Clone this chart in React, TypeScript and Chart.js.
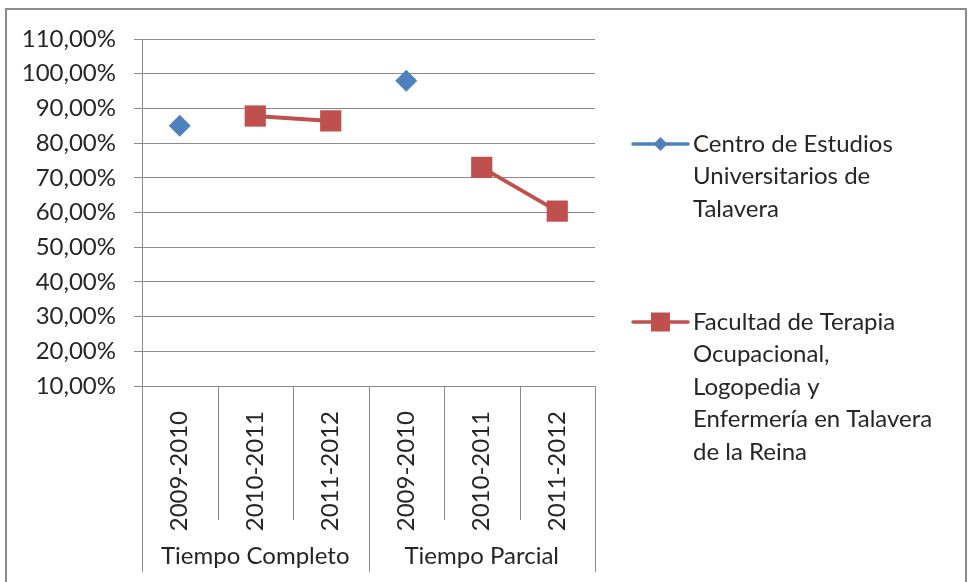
import React, { useEffect, useRef } from "react";
import { Chart, registerables } from "chart.js";

Chart.register(...registerables);

const yearLabels = ["2009-2010", "2010-2011", "2011-2012", "2009-2010", "2010-2011", "2011-2012"];
const groupLabels = ["Tiempo Completo", "Tiempo Parcial"];
const groupSizes = [3, 3];
const centroName = ["Centro de Estudios", "Universitarios de", "Talavera"];
const facultadName = ["Facultad de Terapia", "Ocupacional,", "Logopedia y", "Enfermería en Talavera", "de la Reina"];
const centroValues: (number | null)[] = [85, null, null, 98, null, null];
const facultadValues: (number | null)[] = [null, 87.8, 86.4, null, 73, 60.4];
const yMin = 10;
const yMax = 110;
const yStep = 10;

const BLUE = "#4F81BD";
const RED = "#C0504D";
const GRID = "#8a8a8a";
const TEXT = "#262626";
const FONT = "Lato";
const FS = 24;

export default function App() {
  const ref = useRef<HTMLCanvasElement | null>(null);

  useEffect(() => {
    document.body.style.margin = "0";
    const canvas = ref.current!;
    const extras = {
      id: "extras",
      afterDraw(chart: any) {
        const ctx = chart.ctx;
        const xs = chart.scales.x;
        const area = chart.chartArea;
        const n = yearLabels.length;
        const w = (area.right - area.left) / n;
        ctx.save();
        // outer border
        ctx.strokeStyle = "#8c8c8c";
        ctx.lineWidth = 2;
        ctx.strokeRect(6, 9, 960, 700);
        // category separators
        ctx.strokeStyle = GRID;
        ctx.lineWidth = 1;
        const groupBounds = new Set<number>([0]);
        let acc = 0;
        groupSizes.forEach((s) => { acc += s; groupBounds.add(acc); });
        for (let i = 0; i <= n; i++) {
          const x = Math.round(xs.getPixelForValue(0) - w / 2 + i * w) + 0.5;
          const bottom = groupBounds.has(i) ? 572 : 520;
          ctx.beginPath();
          ctx.moveTo(x, area.bottom);
          ctx.lineTo(x, bottom);
          ctx.stroke();
        }
        // group labels
        ctx.fillStyle = TEXT;
        ctx.font = `${FS}px ${FONT}`;
        ctx.textAlign = "center";
        ctx.textBaseline = "middle";
        let start = 0;
        groupLabels.forEach((g, gi) => {
          const x0 = xs.getPixelForValue(start) - w / 2;
          const x1 = xs.getPixelForValue(start + groupSizes[gi] - 1) + w / 2;
          ctx.fillText(g, (x0 + x1) / 2, 556);
          start += groupSizes[gi];
        });
        // legend
        const lx0 = 633, lx1 = 688, tx = 693, lh = 32.5;
        ctx.textAlign = "left";
        // blue entry
        let y = 144;
        ctx.strokeStyle = BLUE;
        ctx.lineWidth = 3.5;
        ctx.lineCap = "round";
        ctx.beginPath(); ctx.moveTo(lx0, y); ctx.lineTo(lx1, y); ctx.stroke();
        ctx.fillStyle = BLUE;
        const cx = (lx0 + lx1) / 2;
        ctx.beginPath();
        ctx.moveTo(cx - 7, y); ctx.lineTo(cx, y - 7); ctx.lineTo(cx + 7, y); ctx.lineTo(cx, y + 7);
        ctx.closePath(); ctx.fill();
        ctx.fillStyle = TEXT;
        centroName.forEach((t, i) => ctx.fillText(t, tx, y + i * lh));
        // red entry
        y = 322;
        ctx.strokeStyle = RED;
        ctx.beginPath(); ctx.moveTo(lx0, y); ctx.lineTo(lx1, y); ctx.stroke();
        ctx.fillStyle = RED;
        ctx.fillRect(cx - 9.5, y - 9.5, 19, 19);
        ctx.fillStyle = TEXT;
        facultadName.forEach((t, i) => ctx.fillText(t, tx, y + i * lh));
        ctx.restore();
      },
    };

    const chart = new Chart(canvas, {
      type: "line",
      data: {
        labels: yearLabels,
        datasets: [
          {
            label: centroName.join(" "),
            data: centroValues,
            borderColor: BLUE,
            backgroundColor: BLUE,
            borderWidth: 3.5,
            pointStyle: "rectRot",
            pointRadius: 11,
            pointBorderWidth: 0,
            spanGaps: false,
          },
          {
            label: facultadName.join(" "),
            data: facultadValues,
            borderColor: RED,
            backgroundColor: RED,
            borderWidth: 4,
            pointStyle: "rect",
            pointRadius: 15,
            pointBorderWidth: 0,
            spanGaps: false,
          },
        ],
      },
      options: {
        responsive: false,
        animation: false,
        devicePixelRatio: 1,
        layout: { padding: { top: 39, right: 373, bottom: 0, left: 0 } },
        plugins: { legend: { display: false }, tooltip: { enabled: false } },
        scales: {
          x: {
            type: "category",
            offset: true,
            grid: { display: false },
            border: { display: false },
            ticks: {
              autoSkip: false,
              minRotation: 90,
              maxRotation: 90,
              padding: 17,
              color: TEXT,
              font: { family: FONT, size: FS },
            },
            afterFit(scale: any) { scale.height = 196; },
          },
          y: {
            min: yMin,
            max: yMax,
            ticks: {
              stepSize: yStep,
              padding: 18,
              color: TEXT,
              font: { family: FONT, size: FS },
              callback: (v: any) => `${Number(v).toFixed(2).replace(".", ",")}%`,
            },
            grid: { color: GRID, lineWidth: 1, drawTicks: true, tickLength: 8, tickColor: GRID },
            border: { display: true, color: GRID, width: 1 },
            afterFit(scale: any) { scale.width = 142; },
          },
        },
      },
      plugins: [extras],
    } as any);
    return () => chart.destroy();
  }, []);

  return (
    <div style={{ position: "absolute", left: 0, top: 0, width: 968, height: 582, background: "#fff" }}>
      <canvas ref={ref} width={968} height={582} style={{ display: "block", width: 968, height: 582 }} />
    </div>
  );
}
